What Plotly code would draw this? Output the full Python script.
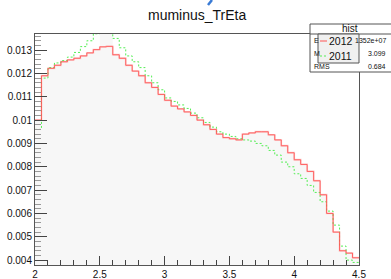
import numpy as np
import plotly.graph_objects as go

# ---- data ----
bin_start = 2.0
bin_width = 0.05
y2012 = [0.0100, 0.0119, 0.01222, 0.01235, 0.0125, 0.01258, 0.01265, 0.01275, 0.01288, 0.01302,
         0.01314, 0.01316, 0.0128, 0.01265, 0.01235, 0.0121, 0.0119, 0.0116, 0.0114, 0.0111,
         0.01085, 0.0106, 0.01048, 0.01035, 0.0102, 0.0100, 0.0098, 0.0096, 0.0094, 0.00925,
         0.0092, 0.00915, 0.0094, 0.00945, 0.0095, 0.0095, 0.00937, 0.00915, 0.0089, 0.0086,
         0.0083, 0.0081, 0.0078, 0.0074, 0.0068, 0.0060, 0.0052, 0.0044, 0.0043, 0.0041]
y2011 = [0.0096, 0.0118, 0.01225, 0.01245, 0.01255, 0.0127, 0.0129, 0.01315, 0.0134, 0.0137,
         0.0140, 0.0140, 0.0135, 0.0131, 0.01275, 0.0125, 0.01225, 0.0119, 0.0116, 0.0113,
         0.01095, 0.0108, 0.01065, 0.0105, 0.0103, 0.0101, 0.0099, 0.0097, 0.0095, 0.0094,
         0.0093, 0.0092, 0.00915, 0.0091, 0.0090, 0.0089, 0.0087, 0.0085, 0.0082, 0.0080,
         0.0077, 0.0075, 0.0072, 0.0069, 0.0065, 0.0061, 0.0055, 0.0046, 0.0040, 0.0039]
yhist = list(y2012)
yhist[10] = 0.0140
yhist[11] = 0.0140

y_ticks = [0.004, 0.005, 0.006, 0.007, 0.008, 0.009, 0.010, 0.011, 0.012, 0.013]
y_ticktext = ["0.004", "0.005", "0.006", "0.007", "0.008", "0.009", "0.01", "0.011", "0.012", "0.013"]
x_ticks = [2, 2.5, 3, 3.5, 4, 4.5]
x_ticktext = ["2", "2.5", "3", "3.5", "4", "4.5"]

stats_labels = ["E", "M", "RMS"]
stats_values = ["1352e+07", "3.099", "0.684"]
legend_names = ["2012", "2011"]

# ---- geometry helpers ----
W, H = 391, 279
L, R, T, B = 35, 359, 34, 265


def px(xp):
    return (xp - L) / (R - L)


def py(yp):
    return (B - yp) / (B - T)


def steps(vals):
    n = len(vals)
    edges = bin_start + bin_width * np.arange(n + 1)
    return edges, list(vals) + [vals[-1]]


fig = go.Figure()

ex, ey = steps(yhist)
fig.add_trace(go.Scatter(x=ex, y=ey, mode="lines", line=dict(shape="hv", color="rgba(0,0,0,0)", width=0),
                         fill="tozeroy", fillcolor="#f7f7f7", hoverinfo="skip", showlegend=False))
ex, ey12 = steps(y2012)
fig.add_trace(go.Scatter(x=ex, y=ey12, mode="lines", line=dict(shape="hv", color="#fbd0d0", width=1.8),
                         hoverinfo="skip", showlegend=False))
ex, ey11 = steps(y2011)
fig.add_trace(go.Scatter(x=ex, y=ey11, mode="lines", line=dict(shape="hv", color="#55ee55", width=1, dash="2px,2px"),
                         hoverinfo="skip", showlegend=False, name="2011"))
fig.add_trace(go.Scatter(x=ex, y=ey12, mode="lines", line=dict(shape="hv", color="#ff5555", width=0.9),
                         hoverinfo="skip", showlegend=False, name="2012"))

font = dict(family="Liberation Sans, Arial, sans-serif", color="#111")

fig.update_layout(
    width=W, height=H,
    margin=dict(l=L, r=W - R, t=T, b=H - B, pad=0, autoexpand=False),
    paper_bgcolor="white", plot_bgcolor="white",
    font=dict(family="Liberation Sans, Arial, sans-serif", size=10, color="#111"),
    showlegend=False,
    hovermode=False,
    xaxis=dict(range=[2, 4.5], tickvals=x_ticks, ticktext=x_ticktext, ticks="inside", ticklen=9,
               tickcolor="#444", showline=True, linecolor="#555", linewidth=1, mirror=True, automargin=False,
               showgrid=False, zeroline=False, tickfont=dict(size=10),
               minor=dict(ticks="inside", ticklen=5, dtick=0.1, tick0=2, tickcolor="#444", showgrid=False)),
    yaxis=dict(range=[0.00379, 0.01369], tickvals=y_ticks, ticktext=y_ticktext, ticks="inside", ticklen=12,
               tickcolor="#444", showline=True, linecolor="#555", linewidth=1, mirror=True, automargin=False,
               showgrid=False, zeroline=False, tickfont=dict(size=10),
               minor=dict(ticks="inside", ticklen=6, dtick=0.0002, tick0=0.004, tickcolor="#999", showgrid=False)),
)

shapes = []
annotations = []
# title
annotations.append(dict(text="muminus_TrEta", x=px(197.5), y=py(15), xref="paper", yref="paper",
                        showarrow=False, xanchor="center", yanchor="middle", font=dict(size=14, **font)))
# blue clipped glyph at top
shapes.append(dict(type="line", xref="paper", yref="paper", x0=px(212), y0=py(0), x1=px(208), y1=py(5),
                   line=dict(color="#3a7bd5", width=2.5)))
# stats box
shapes.append(dict(type="rect", xref="paper", yref="paper", x0=px(310), y0=py(24), x1=px(392), y1=py(72),
                   fillcolor="white", line=dict(color="#555", width=1), layer="above"))
shapes.append(dict(type="line", xref="paper", yref="paper", x0=px(310), y0=py(34), x1=px(392), y1=py(34),
                   line=dict(color="#555", width=1), layer="above"))
annotations.append(dict(text="hist", x=px(350), y=py(29), xref="paper", yref="paper", showarrow=False,
                        xanchor="center", yanchor="middle", font=dict(size=10, **font)))
for i, (lab, val) in enumerate(zip(stats_labels, stats_values)):
    yy = [41, 54, 66][i]
    annotations.append(dict(text=lab, x=px(312), y=py(yy), xref="paper", yref="paper", showarrow=False,
                            xanchor="left", yanchor="middle", font=dict(size=7, **font)))
    annotations.append(dict(text=val, x=px(388), y=py(yy), xref="paper", yref="paper", showarrow=False,
                            xanchor="right", yanchor="middle", font=dict(size=7, **font)))
# legend box
shapes.append(dict(type="rect", xref="paper", yref="paper", x0=px(318), y0=py(34), x1=px(359), y1=py(63),
                   fillcolor="#f0f0f0", line=dict(color="#555", width=1), layer="above"))
leg_styles = [dict(color="#ff5555", width=1), dict(color="#55ee55", width=1, dash="2px,2px")]
for i, name in enumerate(legend_names):
    yy = [41, 56][i]
    shapes.append(dict(type="line", xref="paper", yref="paper", x0=px(320), y0=py(yy), x1=px(327), y1=py(yy),
                       line=leg_styles[i], layer="above"))
    annotations.append(dict(text=name, x=px(327), y=py(yy), xref="paper", yref="paper", showarrow=False,
                            xanchor="left", yanchor="middle", font=dict(size=10.5, **font)))

fig.update_layout(shapes=shapes, annotations=annotations)
fig.write_html("out.html", config={"displayModeBar": False, "staticPlot": True},
               post_script="document.body.style.margin='0px';document.body.style.overflow='hidden';")
